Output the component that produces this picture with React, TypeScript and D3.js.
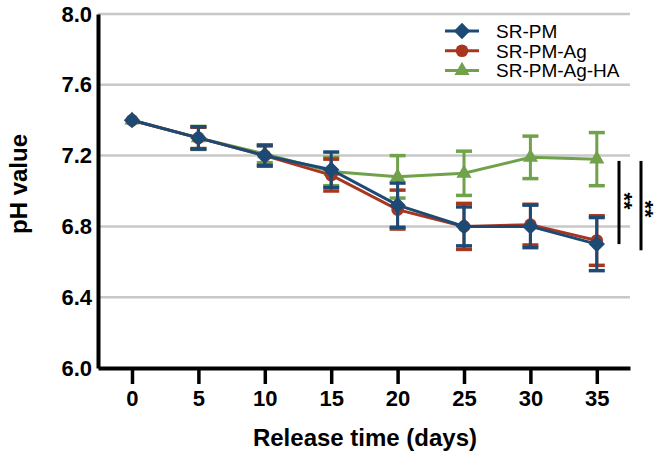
import { useEffect, useRef } from 'react';
import * as d3 from 'd3';

const DAYS = [0, 5, 10, 15, 20, 25, 30, 35];

const SR_PM = [7.40, 7.30, 7.20, 7.12, 6.92, 6.80, 6.80, 6.70];
const SR_PM_ERR = [0, 0.063, 0.055, 0.10, 0.125, 0.11, 0.12, 0.15];

const SR_PM_AG = [7.40, 7.30, 7.20, 7.09, 6.895, 6.80, 6.81, 6.72];
const SR_PM_AG_ERR = [0, 0.06, 0.06, 0.09, 0.11, 0.13, 0.115, 0.14];

const SR_PM_AG_HA = [7.40, 7.30, 7.21, 7.11, 7.08, 7.10, 7.19, 7.18];
const SR_PM_AG_HA_ERR = [0, 0.065, 0.05, 0.08, 0.12, 0.125, 0.12, 0.15];

const Y_TICKS = [6.0, 6.4, 6.8, 7.2, 7.6, 8.0];

interface Series {
  name: string;
  values: number[];
  errors: number[];
  color: string;
  symbol: d3.SymbolType;
  size: number;
}

// drawn in this order, so blue ends up on top
const SERIES: Series[] = [
  { name: 'SR-PM-Ag-HA', values: SR_PM_AG_HA, errors: SR_PM_AG_HA_ERR, color: '#6fa24a', symbol: d3.symbolTriangle, size: 100 },
  { name: 'SR-PM-Ag', values: SR_PM_AG, errors: SR_PM_AG_ERR, color: '#a8361f', symbol: d3.symbolCircle, size: 125 },
  { name: 'SR-PM', values: SR_PM, errors: SR_PM_ERR, color: '#1d4a75', symbol: d3.symbolDiamond2, size: 170 },
];

const LEGEND_ORDER = ['SR-PM', 'SR-PM-Ag', 'SR-PM-Ag-HA'];

const FONT = '"Liberation Sans", Arial, sans-serif';

export default function App() {
  const svgRef = useRef<SVGSVGElement>(null);
  const width = 658;
  const height = 458;

  useEffect(() => {
    if (!svgRef.current) return;
    const svg = d3.select(svgRef.current);
    svg.selectAll('*').remove();

    const x = d3.scaleLinear().domain([-2.56, 37.5]).range([98, 630]);
    const y = d3.scaleLinear().domain([6, 8]).range([368, 14]);

    // Grid lines
    svg.append('g')
      .selectAll('line')
      .data(Y_TICKS.filter((t) => t > 6))
      .join('line')
      .attr('x1', x(-2.56))
      .attr('x2', x(37.5))
      .attr('y1', (d) => y(d))
      .attr('y2', (d) => y(d))
      .attr('stroke', '#c8c8c8')
      .attr('stroke-width', 2.5);

    // X axis
    const xAxis = svg.append('g').attr('transform', `translate(0,${y(6)})`);
    xAxis.call(d3.axisBottom(x).tickValues(DAYS).tickSize(16).tickPadding(6).tickSizeOuter(0));
    xAxis.select('.domain').attr('stroke', '#000').attr('stroke-width', 4);
    xAxis.selectAll('.tick line').attr('stroke', '#000').attr('stroke-width', 3.5);
    xAxis.selectAll('text')
      .attr('fill', '#000')
      .style('font-family', FONT)
      .style('font-weight', 'bold')
      .style('font-size', '22px');

    // Y axis
    const yAxis = svg.append('g').attr('transform', `translate(${x(-2.56)},0)`);
    yAxis.call(d3.axisLeft(y).tickValues(Y_TICKS).tickFormat(d3.format('.1f')).tickSize(0).tickPadding(6));
    yAxis.select('.domain').attr('stroke', '#000').attr('stroke-width', 4);
    yAxis.selectAll('text')
      .attr('fill', '#000')
      .style('font-family', FONT)
      .style('font-weight', 'bold')
      .style('font-size', '22px');

    const line = d3.line<number>()
      .x((_, i) => x(DAYS[i]))
      .y((d) => y(d));

    SERIES.forEach((s) => {
      const g = svg.append('g');
      const capW = 8;
      DAYS.forEach((day, i) => {
        const e = s.errors[i];
        if (!e) return;
        const cx = x(day);
        const top = y(s.values[i] + e);
        const bot = y(s.values[i] - e);
        g.append('line').attr('x1', cx).attr('x2', cx).attr('y1', top).attr('y2', bot)
          .attr('stroke', s.color).attr('stroke-width', 3);
        g.append('line').attr('x1', cx - capW).attr('x2', cx + capW).attr('y1', top).attr('y2', top)
          .attr('stroke', s.color).attr('stroke-width', 3.5);
        g.append('line').attr('x1', cx - capW).attr('x2', cx + capW).attr('y1', bot).attr('y2', bot)
          .attr('stroke', s.color).attr('stroke-width', 3.5);
      });
      g.append('path')
        .datum(s.values)
        .attr('d', line)
        .attr('fill', 'none')
        .attr('stroke', s.color)
        .attr('stroke-width', 3);
      g.selectAll('.pt')
        .data(s.values)
        .join('path')
        .attr('class', 'pt')
        .attr('transform', (d, i) => `translate(${x(DAYS[i])},${y(d)})`)
        .attr('d', d3.symbol().type(s.symbol).size(s.size)())
        .attr('fill', s.color);
    });

    // Significance marks
    const sig = [
      { x: 619, y1: y(7.17), y2: y(6.70), tx: 628, ty: 201 },
      { x: 641, y1: y(7.17), y2: y(6.665), tx: 649, ty: 209 },
    ];
    sig.forEach((m) => {
      svg.append('line').attr('x1', m.x).attr('x2', m.x).attr('y1', m.y1).attr('y2', m.y2)
        .attr('stroke', '#000').attr('stroke-width', 3);
      svg.append('text')
        .attr('transform', `translate(${m.tx},${m.ty}) rotate(90)`)
        .attr('text-anchor', 'middle')
        .attr('dy', '0.52em')
        .style('font-family', FONT)
        .style('font-weight', 'bold')
        .style('font-size', '22px')
        .text('**');
    });

    // Legend
    const legend = svg.append('g');
    LEGEND_ORDER.forEach((name, i) => {
      const s = SERIES.find((d) => d.name === name)!;
      const ly = 31 + i * 19.8;
      legend.append('line').attr('x1', 445).attr('x2', 479).attr('y1', ly).attr('y2', ly)
        .attr('stroke', s.color).attr('stroke-width', 3);
      legend.append('path')
        .attr('transform', `translate(462,${ly})`)
        .attr('d', d3.symbol().type(s.symbol).size(s.size)())
        .attr('fill', s.color);
      legend.append('text')
        .attr('x', 496)
        .attr('y', ly)
        .attr('dy', '0.36em')
        .style('font-family', FONT)
        .style('font-size', '19px')
        .attr('fill', '#000')
        .text(name);
    });

    // Axis titles
    svg.append('text')
      .attr('x', 365)
      .attr('y', 446)
      .attr('text-anchor', 'middle')
      .style('font-family', FONT)
      .style('font-weight', 'bold')
      .style('font-size', '24px')
      .text('Release time (days)');

    svg.append('text')
      .attr('transform', `translate(27,${184}) rotate(-90)`)
      .attr('text-anchor', 'middle')
      .style('font-family', FONT)
      .style('font-weight', 'bold')
      .style('font-size', '24px')
      .text('pH value');
  }, []);

  return (
    <svg
      ref={svgRef}
      width={width}
      height={height}
      style={{ position: 'absolute', left: 0, top: 0, background: '#fff' }}
    />
  );
}
